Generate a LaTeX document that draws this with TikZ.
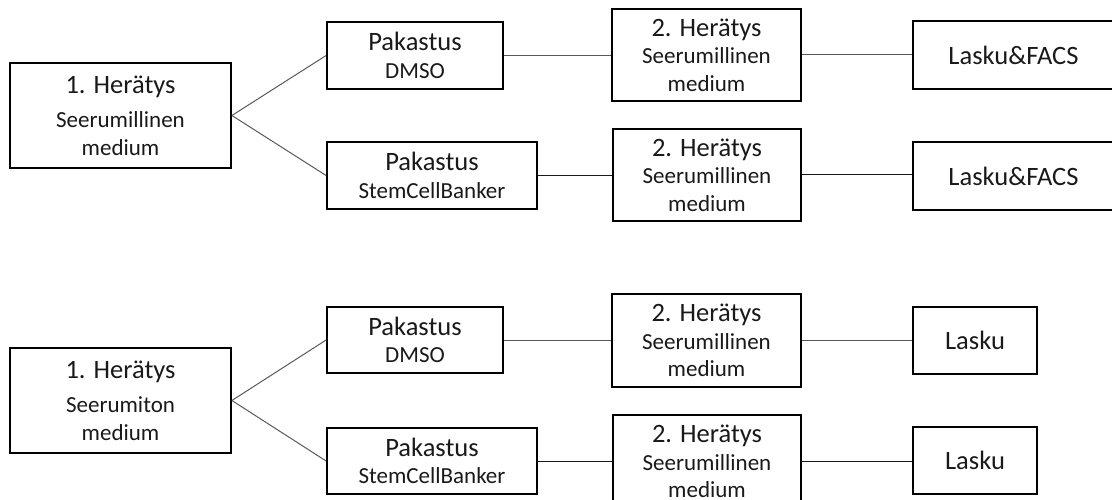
\documentclass[tikz,border=0pt]{standalone}
\usepackage{fontspec}
\setmainfont{Carlito}
\newcommand{\bigtxt}[1]{{\fontsize{26.5}{28}\selectfont #1}}
\begin{document}
\begin{tikzpicture}[x=1pt,y=-1pt,
  box/.style={draw=black,line width=1.8pt,inner sep=0pt,align=center,
    font=\fontsize{23}{27.5}\selectfont,text=black!90},
  conn/.style={line width=1pt,draw=black!65},
  connk/.style={line width=1pt,draw=black!90}]
\useasboundingbox (0,0) rectangle (1112,500);
% top group
\node[box,minimum width=221,minimum height=105] (A1) at (120.5,115.5)
  {\bigtxt{1. Herätys}\\[7pt]Seerumillinen\\medium};
\node[box,minimum width=176,minimum height=67] (P1) at (415,55.5)
  {\bigtxt{Pakastus}\\DMSO};
\node[box,minimum width=189,minimum height=92] (H1) at (706.5,55)
  {\bigtxt{2. Herätys}\\Seerumillinen\\medium};
\node[box,minimum width=201,minimum height=68] (L1) at (1013.5,55)
  {\bigtxt{Lasku\&FACS}};
\node[box,minimum width=210,minimum height=67] (P2) at (432,175.5)
  {\bigtxt{Pakastus}\\StemCellBanker};
\node[box,minimum width=188,minimum height=92] (H2) at (707,175)
  {\bigtxt{2. Herätys}\\Seerumillinen\\medium};
\node[box,minimum width=201,minimum height=68] (L2) at (1013.5,176)
  {\bigtxt{Lasku\&FACS}};
% bottom group
\node[box,minimum width=221,minimum height=105] (A2) at (120.5,400.5)
  {\bigtxt{1. Herätys}\\[7pt]Seerumiton\\medium};
\node[box,minimum width=176,minimum height=66] (P3) at (415,340)
  {\bigtxt{Pakastus}\\DMSO};
\node[box,minimum width=189,minimum height=93] (H3) at (706.5,340.5)
  {\bigtxt{2. Herätys}\\Seerumillinen\\medium};
\node[box,minimum width=124,minimum height=67] (L3) at (975,340.5)
  {\bigtxt{Lasku}};
\node[box,minimum width=210,minimum height=66] (P4) at (432,461)
  {\bigtxt{Pakastus}\\StemCellBanker};
\node[box,minimum width=188,minimum height=93] (H4) at (707,461.5)
  {\bigtxt{2. Herätys}\\Seerumillinen\\medium};
\node[box,minimum width=124,minimum height=67] (L4) at (975,460.5)
  {\bigtxt{Lasku}};
% connectors
\draw[conn] (A1.east) -- (P1.west);
\draw[conn] (A1.east) -- (P2.west);
\draw[conn] (P1.east) -- (P1.east -| H1.west);
\draw[conn] (H1.east) -- (H1.east -| L1.west);
\draw[connk] (P2.east) -- (P2.east -| H2.west);
\draw[connk] (H2.east) -- (H2.east -| L2.west);
\draw[conn] (A2.east) -- (P3.west);
\draw[conn] (A2.east) -- (P4.west);
\draw[conn] (P3.east) -- (P3.east -| H3.west);
\draw[conn] (H3.east) -- (H3.east -| L3.west);
\draw[connk] (P4.east) -- (P4.east -| H4.west);
\draw[connk] (H4.east) -- (H4.east -| L4.west);
\end{tikzpicture}
\end{document}
